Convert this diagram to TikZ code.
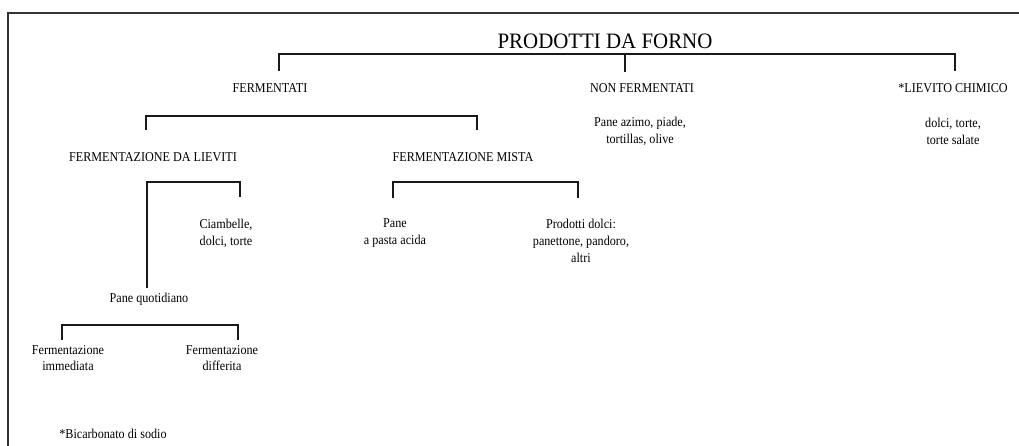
\documentclass[tikz,border=0pt]{standalone}
\usepackage{fontspec}
\setmainfont{Liberation Serif}[FakeStretch=0.9]
\newfontfamily\ttlfont{Liberation Serif}[FakeStretch=0.95]
\begin{document}
\begin{tikzpicture}[x=1pt,y=-1pt,
  lbl/.style={font=\fontsize{13.5}{16.8}\selectfont, align=center, inner sep=0pt, text=black},
  ttl/.style={font=\ttlfont\fontsize{22}{26}\selectfont, inner sep=0pt, text=black},
  br/.style={line width=2.3pt, black!90},
  frm/.style={line width=1.2pt, black!80}]
\useasboundingbox (0,0) rectangle (1019,446);
\draw[frm] (8,446) -- (8,13) -- (1019,13);

% nodes
\node[ttl] (root) at (605,41) {PRODOTTI DA FORNO};
\node[lbl] (ferm) at (270,88) {FERMENTATI};
\node[lbl] (nonf) at (642,88) {NON FERMENTATI};
\node[lbl] (chim) at (953,88) {*LIEVITO CHIMICO};
\node[lbl] (nonfx) at (640,131) {Pane azimo, piade,\\tortillas, olive};
\node[lbl] (chimx) at (953,131) {dolci, torte,\\torte salate};
\node[lbl] (lievi) at (153,157) {FERMENTAZIONE DA LIEVITI};
\node[lbl] (mista) at (463,157) {FERMENTAZIONE MISTA};
\node[lbl] (ciamb) at (226,233) {Ciambelle,\\dolci, torte};
\node[lbl] (paneq) at (149,299) {Pane quotidiano};
\node[lbl] (immed) at (68,358) {Fermentazione\\immediata};
\node[lbl] (diff) at (222,358) {Fermentazione\\differita};
\node[lbl] (acida) at (395,233) {Pane\\a pasta acida};
\node[lbl] (dolci) at (581,241) {Prodotti dolci:\\panettone, pandoro,\\altri};
\node[lbl] (bicarb) at (113,434) {*Bicarbonato di sodio};

% bracket coordinates
\coordinate (a1) at (279,71);  \coordinate (a2) at (955,71);  \coordinate (a3) at (625,72);
\coordinate (b1) at (146,130); \coordinate (b2) at (477,130);
\coordinate (c1) at (147,288); \coordinate (c2) at (240,197);
\coordinate (d1) at (62,340);  \coordinate (d2) at (238,340);
\coordinate (e1) at (393,198); \coordinate (e2) at (578,198);

\draw[br] (a1) -- (a1 |- 0,54) -- (a2 |- 0,54) -- (a2);
\draw[br] (a3 |- 0,54) -- (a3);
\draw[br] (b1) -- (b1 |- 0,116) -- (b2 |- 0,116) -- (b2);
\draw[br] (c1) -- (c1 |- 0,182) -- (c2 |- 0,182) -- (c2);
\draw[br] (d1) -- (d1 |- 0,325) -- (d2 |- 0,325) -- (d2);
\draw[br] (e1) -- (e1 |- 0,182) -- (e2 |- 0,182) -- (e2);
\end{tikzpicture}
\end{document}
